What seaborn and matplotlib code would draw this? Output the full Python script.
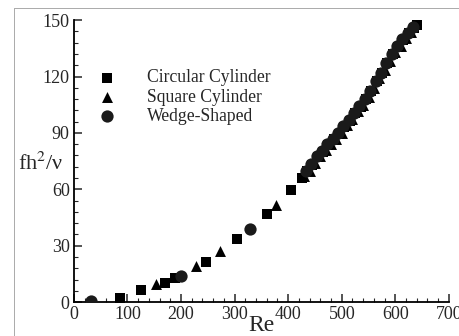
import numpy as np
import pandas as pd
import seaborn as sns
import matplotlib.pyplot as plt
from matplotlib.lines import Line2D
from matplotlib.ticker import MultipleLocator

# Circular cylinder (squares)
circ_re = [86, 126, 170, 189, 246, 304, 360, 406,
           425, 435, 445, 455, 465, 475, 485, 495, 505, 515, 525, 535, 545,
           555, 565, 575, 585, 595, 605, 615, 625, 635, 640]
circ_f = [2.3, 6.5, 10, 13, 21.5, 33.5, 46.6, 59.5,
          66, 69.5, 73, 77, 80, 83.5, 86.5, 89.5, 93, 96.5, 100.5, 104, 108,
          112.5, 117.5, 122, 127, 132, 135.5, 139.5, 143, 146, 147.5]

# Square cylinder (triangles)
sq_re = [154, 228, 273, 377,
         430, 440, 450, 460, 470, 480, 490, 500, 510, 520, 530, 540, 550,
         560, 570, 580, 590, 600, 610, 620, 630]
sq_f = [9.5, 19, 27, 51.5,
        67, 70, 74, 77.5, 81, 84, 87, 90, 94, 97.5, 101.5, 105, 109,
        114, 119, 123.5, 128.5, 133, 136.5, 140.5, 143.5]

# Wedge-shaped (circles)
wedge_re = [31, 199, 328,
            433, 443, 453, 463, 473, 483, 493, 503, 513, 523, 533, 543, 553,
            563, 573, 583, 593, 603, 613, 623, 633]
wedge_f = [0.5, 14, 39,
           70, 73.5, 77.5, 80.5, 84, 87, 90, 93.5, 97, 100.5, 104.5, 108, 112.5,
           117.5, 122, 127, 132, 136, 140, 143, 146.5]


def make_plot():
    sns.set_style("ticks")
    plt.rcParams['font.family'] = ['Liberation Serif', 'DejaVu Serif']
    plt.rcParams['mathtext.fontset'] = 'stix'

    fig = plt.figure(figsize=(4.59, 3.36), dpi=100)
    ax = fig.add_axes([0.161, 0.101, 0.817, 0.839])

    df_c = pd.DataFrame({"Re": circ_re, "f": circ_f})
    df_s = pd.DataFrame({"Re": sq_re, "f": sq_f})
    df_w = pd.DataFrame({"Re": wedge_re, "f": wedge_f})

    sns.scatterplot(data=df_c, x="Re", y="f", marker="s", s=52, color="black",
                    edgecolor="black", linewidth=0, label="Circular Cylinder", ax=ax, zorder=3)
    sns.scatterplot(data=df_s, x="Re", y="f", marker="^", s=62, color="black",
                    edgecolor="black", linewidth=0, label="Square Cylinder", ax=ax, zorder=3)
    sns.scatterplot(data=df_w, x="Re", y="f", marker="o", s=78, color="#1a1a1a",
                    edgecolor="black", linewidth=0, label="Wedge-Shaped", ax=ax, zorder=3)

    ax.set_xlim(0, 700)
    ax.set_ylim(0, 150)
    ax.set_xticks([0, 100, 200, 300, 400, 500, 600, 700])
    ax.set_yticks([0, 30, 60, 90, 120, 150])
    ax.xaxis.set_minor_locator(MultipleLocator(20))
    ax.yaxis.set_minor_locator(MultipleLocator(6))
    ax.tick_params(which="major", direction="in", length=6, width=1.1, labelsize=13, pad=3)
    ax.tick_params(which="minor", direction="in", length=3, width=0.8)
    sns.despine(ax=ax)
    for sp in ("left", "bottom"):
        ax.spines[sp].set_linewidth(1.3)
        ax.spines[sp].set_color("black")

    ax.set_xlabel("Re", fontsize=17, labelpad=-6)
    ax.set_ylabel("fh$^2$/ν", fontsize=16, rotation=0, ha="right", va="center")
    ax.yaxis.set_label_coords(-0.028, 0.49)

    ax.legend(loc="upper left", bbox_to_anchor=(0.064, 0.825), frameon=False,
              fontsize=12.7, handlelength=1.0, handletextpad=1.8,
              labelspacing=0.12, borderpad=0, borderaxespad=0)

    # scanned page frame
    fig.add_artist(Line2D([0.03, 1.0], [0.975, 0.975], color="#aaaaaa", lw=0.7))
    fig.add_artist(Line2D([0.03, 0.03], [0.0, 0.975], color="#aaaaaa", lw=0.7))

    fig.savefig("out.png", dpi=100)


if __name__ == "__main__":
    make_plot()
